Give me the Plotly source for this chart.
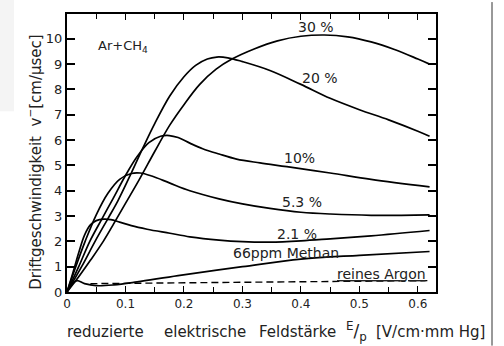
import plotly.graph_objects as go

# ---- data (E/p in V/cm·mmHg, drift velocity in cm/µs) ----
x30 = [0, 0.02, 0.04, 0.062, 0.08, 0.1, 0.125, 0.15, 0.176, 0.2, 0.227, 0.255, 0.282, 0.32, 0.36, 0.4, 0.44, 0.48, 0.52, 0.56, 0.6, 0.62]
v30 = [0, 0.6, 1.25, 2.0, 2.7, 3.5, 4.5, 5.55, 6.6, 7.4, 8.2, 8.8, 9.2, 9.6, 9.92, 10.1, 10.15, 10.08, 9.88, 9.58, 9.2, 9.0]

x20 = [0, 0.025, 0.048, 0.07, 0.087, 0.11, 0.13, 0.15, 0.176, 0.2, 0.22, 0.24, 0.256, 0.275, 0.3, 0.347, 0.4, 0.45, 0.5, 0.55, 0.6, 0.62]
v20 = [0, 1.0, 2.0, 2.9, 3.6, 4.7, 5.7, 6.65, 7.75, 8.5, 8.95, 9.2, 9.28, 9.25, 9.1, 8.75, 8.2, 7.65, 7.2, 6.8, 6.35, 6.15]

x10 = [0, 0.02, 0.039, 0.06, 0.079, 0.1, 0.12, 0.14, 0.16, 0.175, 0.19, 0.21, 0.232, 0.26, 0.29, 0.33, 0.376, 0.45, 0.52, 0.62]
v10 = [0, 1.0, 2.0, 2.9, 3.7, 4.6, 5.35, 5.9, 6.15, 6.18, 6.1, 5.88, 5.66, 5.45, 5.25, 5.1, 4.95, 4.7, 4.45, 4.15]

x53 = [0, 0.015, 0.031, 0.05, 0.07, 0.09, 0.11, 0.125, 0.145, 0.176, 0.21, 0.26, 0.3, 0.347, 0.4, 0.45, 0.52, 0.62]
v53 = [0, 1.0, 2.0, 3.05, 3.9, 4.45, 4.68, 4.7, 4.58, 4.3, 4.0, 3.68, 3.48, 3.3, 3.15, 3.08, 3.03, 3.05]

x21 = [0, 0.01, 0.02, 0.03, 0.04, 0.05, 0.063, 0.075, 0.09, 0.11, 0.137, 0.176, 0.21, 0.26, 0.3, 0.347, 0.4, 0.45, 0.52, 0.62]
v21 = [0, 0.75, 1.55, 2.25, 2.65, 2.82, 2.88, 2.86, 2.76, 2.62, 2.48, 2.32, 2.18, 2.05, 1.99, 1.97, 2.02, 2.1, 2.22, 2.43]

x66 = [0, 0.008, 0.017, 0.03, 0.05, 0.08, 0.12, 0.19, 0.3, 0.4, 0.5, 0.62]
v66 = [0, 0.3, 0.45, 0.33, 0.25, 0.28, 0.4, 0.65, 1.0, 1.3, 1.45, 1.6]

xAr = [0.04, 0.2, 0.4, 0.62]
vAr = [0.33, 0.37, 0.41, 0.45]

x_ticks = [0, 0.1, 0.2, 0.3, 0.4, 0.5, 0.6]
x_ticklabels = ["0", "0.1", "0.2", "0.3", "0.4", "0.5", "0.6"]
y_ticks = list(range(0, 11))

x_title_words = ["reduzierte", "elektrische", "Feldstärke", "<sup>E</sup>/<sub>p</sub>", "[V/cm·mm Hg]"]
x_title_px = [105, 205, 297, 356, 430]
x_title_sizes = [15, 15, 15, 17, 15]

FONT = "DejaVu Sans, Arial"
L, T, W, H = 67, 12, 369, 280

fig = go.Figure()
for xs, vs in [(x30, v30), (x20, v20), (x10, v10), (x53, v53), (x21, v21), (x66, v66)]:
    fig.add_trace(go.Scatter(x=xs, y=vs, mode="lines",
                             line=dict(color="black", width=1.7, shape="spline", smoothing=1.0),
                             showlegend=False, hoverinfo="skip"))
fig.add_trace(go.Scatter(x=xAr, y=vAr, mode="lines",
                         line=dict(color="black", width=1.4, dash="7px,4px"),
                         showlegend=False, hoverinfo="skip"))

labels = [
    (0.425, 10.45, "30 %", 14),
    (0.433, 8.45, "20 %", 14),
    (0.398, 5.3, "10%", 14),
    (0.402, 3.55, "5.3 %", 14),
    (0.393, 2.28, "2.1 %", 14),
    (0.375, 1.55, "66ppm Methan", 14),
    (0.537, 0.72, "<u>reines Argon</u>", 14),
]
for lx, ly, t, s in labels:
    fig.add_annotation(x=lx, y=ly, text=t, showarrow=False,
                       font=dict(family=FONT, size=s, color="#222"))

fig.add_annotation(x=0.096, y=9.7, text="Ar+CH<sub>4</sub>", showarrow=False,
                   font=dict(family=FONT, size=13, color="#222"))

# axis titles
for word, px, sz in zip(x_title_words, x_title_px, x_title_sizes):
    fig.add_annotation(xref="paper", yref="paper", x=(px - L) / W, y=-0.143,
                       xanchor="center", yanchor="middle", text=word,
                       showarrow=False, font=dict(family=FONT, size=sz, color="#222"))
fig.add_annotation(xref="paper", yref="paper", x=(34 - L) / W, y=0.465,
                   xanchor="center", yanchor="middle", textangle=-90,
                   text="Driftgeschwindigkeit  v<sup>−</sup>[cm/µsec]",
                   showarrow=False, font=dict(family=FONT, size=15, color="#222"))

fig.update_xaxes(range=[0, 0.631], tickvals=x_ticks, ticktext=x_ticklabels,
                 ticks="inside", ticklen=6, tickwidth=1.3, tickcolor="black",
                 minor=dict(dtick=0.05, tick0=0, ticks="inside", ticklen=5, tickcolor="black"),
                 showline=True, linecolor="black", linewidth=2, mirror="ticks",
                 showgrid=False, zeroline=False,
                 tickfont=dict(family=FONT, size=12, color="#222"))
fig.update_yaxes(range=[0, 10.98], tickvals=y_ticks,
                 ticks="inside", ticklen=8, tickwidth=1.5, tickcolor="black",
                 showline=True, linecolor="black", linewidth=2, mirror="ticks",
                 showgrid=False, zeroline=False,
                 tickfont=dict(family=FONT, size=13, color="#222"))

fig.update_layout(
    width=504, height=346,
    margin=dict(l=L, r=504 - L - W, t=T, b=346 - T - H),
    paper_bgcolor="white", plot_bgcolor="white",
    shapes=[
        dict(type="rect", xref="paper", yref="paper", x0=-L / W, x1=(14 - L) / W,
             y0=(T + H - 110) / H, y1=(T + H) / H + 0.2, fillcolor="#f4f4f4", line_width=0, layer="below"),
        dict(type="line", xref="paper", yref="paper", x0=(492 - L) / W, x1=(492 - L) / W,
             y0=-(346 - T - H) / H, y1=(T + H) / H, line=dict(color="#333", width=1)),
    ],
)

fig.write_html("out.html")
